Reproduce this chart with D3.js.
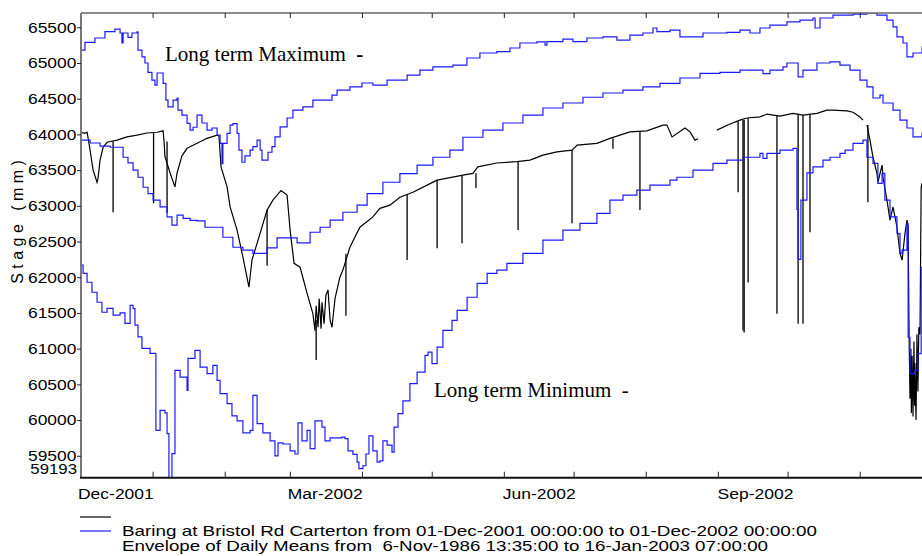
<!DOCTYPE html>
<html>
<head>
<meta charset="utf-8">
<script src="https://cdn.jsdelivr.net/npm/d3@7"></script>
<style>
  body { margin: 0; background: #fff; }
  text { font-family: "Liberation Sans", Arial, sans-serif; }
  .note { font-family: "Liberation Serif", "Times New Roman", serif; white-space: pre; }
</style>
</head>
<body>
<div id="graf"></div>
<script>
// days are counted from 01-Dec-2001 00:00
const maxDays = [0,1.7,6.0,10.3,14.6,16.8,17.6,18.1,20.2,21.9,24.1,24.5,26.2,27.5,28.8,30.5,31.8,32.7,35.3,36.5,37.4,39.6,41.3,41.7,43.4,45.6,46.9,48.2,49.9,52.0,54.2,56.3,58.5,59.8,60.6,61.0,62.8,64.1,65.3,67.1,67.9,69.2,70.5,72.7,73.9,75.7,77.0,77.8,80.4,82.1,83.4,85.6,88.6,91.1,95.4,99.7,105.8,107.9,110.1,115.6,120.8,125.5,131.6,140.2,145.7,151.3,159.9,165.9,171.5,178.8,184.4,188.7,196.0,199.5,200.3,207.2,211.5,217.5,224.4,230.4,236.0,241.6,245.9,247.6,253.2,257.5,267.4,277.7,283.3,287.6,291.9,296.2,303.5,309.1,314.7,315.6,317.7,323.3,331.9,337.9,342.2,346.5,349.1,350.8,353.4,355.1,357.7,361.6,365]
const maxValues = [65180,65290,65350,65440,65475,65420,65280,65420,65360,65420,65435,65180,65085,65000,64870,64760,64690,64860,64715,64480,64385,64480,64510,64340,64270,64155,64060,64100,64270,64160,64060,64090,63990,63875,63590,63875,64015,64130,64150,64015,63780,63610,63700,63780,63830,63920,63780,63640,63750,63830,63965,64105,64230,64340,64385,64480,64480,64550,64620,64665,64720,64690,64760,64830,64900,64945,64970,65070,65140,65160,65210,65280,65295,65250,65300,65335,65300,65350,65365,65320,65390,65420,65490,65440,65460,65365,65420,65430,65460,65420,65490,65530,65575,65600,65630,65490,65630,65670,65685,65700,65670,65600,65505,65365,65280,65085,65140,65225,65250]

const meanDays = [0,3.9,8.2,12.5,15.9,18.1,20.2,22.4,24.5,26.7,28.8,31.0,34.0,37.0,39.1,41.3,43.9,46.9,49.9,53.3,57.6,61.0,65.3,69.6,73.9,77.0,80.0,84.3,88.6,92.9,95.4,98.5,102.8,107.1,112.6,118.7,123.0,129.8,137.1,144.5,151.3,158.6,164.2,172.8,181.4,190.0,198.6,207.2,215.8,224.4,233.0,241.6,248.9,257.5,266.1,274.7,283.3,291.9,293.2,296.2,301.8,303.5,307.8,308.3,310.4,316.4,322.0,326.3,330.6,334.9,337.9,340.5,343.5,344.8,349.1,352.1,355.1,357.7,361.6,365]
const meanValues = [63920,63880,63835,63820,63820,63680,63600,63500,63400,63260,63170,63080,62985,62845,62730,62870,62825,62795,62790,62700,62700,62560,62420,62380,62335,62335,62410,62550,62550,62480,62480,62630,62700,62800,62910,63010,63170,63330,63450,63570,63680,63780,63960,64060,64160,64270,64370,64440,64520,64580,64620,64665,64715,64790,64855,64870,64900,64900,64850,64900,64945,65000,65000,64805,64900,65000,65015,64970,64900,64760,64665,64510,64550,64440,64340,64200,64090,63965,64020,64050]

const minDays = [0,0.9,2.6,4.7,6.9,9.0,11.2,13.8,16.8,18.9,21.1,22.4,23.2,24.5,26.2,29.7,32.2,34.0,36.1,37.0,37.8,39.1,40.4,42.6,45.6,46.0,49.0,51.2,54.2,56.7,58.5,59.8,62.8,64.9,67.1,69.6,72.7,73.9,75.7,78.2,81.3,83.4,84.7,86.8,89.9,92.0,93.3,95.0,97.2,98.5,100.6,103.6,104.9,107.1,112.2,113.5,114.8,116.9,118.7,119.5,121.2,122.5,123.8,125.5,127.3,128.5,129.8,131.6,133.7,134.6,136.3,138.4,141.4,144.5,147.9,149.2,150.9,153.1,155.6,159.5,161.7,166.0,170.3,174.6,178.8,183.1,190.0,198.6,207.2,214.5,221.8,227.4,233.0,239.0,244.6,253.2,256.2,263.1,271.7,277.7,284.6,291.9,293.2,294.9,300.5,306.1,307.8,308.3,309.5,312.1,314.7,319.0,322.0,326.3,328.5,331.9,336.2,337.9,340.5,342.6,344.4,345.6,347.8,350.8,352.1,353.0,355.1,355.6,356.4,358.5,359.8,361.2,365]
const minValues = [62170,62055,61930,61790,61650,61510,61565,61470,61500,61355,61605,61560,61330,61165,61005,60935,59855,60135,60100,59810,59100,59530,60695,60600,60415,60865,60975,60740,60650,60765,60555,60370,60230,60060,59990,59820,59855,60345,59950,59820,59710,59500,59680,59665,59570,59525,59960,59710,59855,59600,59990,59900,59710,59750,59760,59740,59570,59520,59410,59320,59360,59525,59780,59570,59410,59430,59710,59650,59550,59900,60090,60270,60510,60670,60905,60950,60790,61020,61255,61395,61535,61720,61915,62055,62100,62195,62335,62520,62660,62755,62895,63080,63150,63220,63290,63360,63400,63500,63595,63640,63680,63735,63665,63735,63780,63805,62950,62250,63080,63460,63545,63640,63680,63735,63780,63875,63920,63680,63595,63315,63455,63080,62845,62610,62335,62380,62750,61160,60650,60700,60930,62140,62200]

const stageDays = [0,1.7,2.6,3.0,3.9,5.2,6.9,7.3,8.2,9.5,11.2,15.5,19.8,24.1,28.4,32.7,35.3,35.7,36.1,38.3,40.4,41.3,43.4,45.6,49.9,54.2,58.5,59.3,60.2,62.8,64.1,67.1,69.6,72.2,73.5,75.7,80.0,82.5,86.0,88.6,89.9,91.6,94.2,97.2,99.7,100.6,101.1,101.9,102.4,103.2,103.6,104.5,105.3,106.2,107.1,107.9,109.2,111.3,112.6,115.6,119.9,125.5,128.5,132.8,137.1,142.7,148.8,153.1,164.2,168.5,170.6,178.8,187.4,193.0,198.6,204.6,211.1,213.3,221.8,227.4,236.0,243.3,250.2,251.9,254.1,259.7,261.8,264.0,265.3,269,273.4,279.0,283.3,286.3,291.9,294.9,300.5,306.1,310.4,316.4,320.7,323.3,329.3,331.9,334.9,336.2,337,337.9,339.2,340.5,342.2,342.6,344.4,344.8,346.5,347.8,349.1,350.8,352.1,353.0,354.2,355.1,355.6,356.0,356.4,356.8,357.0,357.3,357.7,358.1,358.4,358.5,359.0,359.4,359.8,360.2,360.7,361.2,361.6]
const stageValues = [64030,64015,64030,63960,63780,63500,63330,63380,63640,63820,63890,63920,63965,63990,64020,64030,64050,63900,63690,63460,63265,63460,63700,63805,63875,63945,63990,63980,63545,63265,62985,62660,62285,61860,62240,62475,62940,63080,63215,63150,62660,62195,62140,61775,61490,61250,61600,61300,61700,61280,61650,61350,61750,61820,61400,61300,61700,62000,62100,62420,62700,62845,62965,63010,63120,63190,63290,63360,63430,63455,63545,63600,63620,63640,63710,63755,63780,63850,63875,63945,64035,64050,64130,64130,63965,64090,64035,63920,63940,null,64060,64145,64200,64230,64245,64285,64255,64295,64270,64295,64340,64340,64330,64310,64245,64200,null,64130,63920,63680,63455,63330,63570,63400,63080,62800,62985,62700,62335,62240,62600,62800,62700,61200,60300,61000,60100,60900,60050,61100,60200,60800,60000,61200,60400,61300,61200,63260,63320]

// sharp drops in the record: day, level before the drop, lowest level
const spikeDays = [13.8,31.2,37.0,80.0,101.1,113.9,140.2,153.1,163.8,169.8,187.9,211.1,228.7,240.3,282.5,284.6,285.1,286.8,299.2,308.3,310.4,313.4,338.3]
const spikeTops = [63900,64030,63900,62940,61400,62330,63150,63360,63430,63455,63620,63780,63945,64040,64190,64200,64200,64225,64260,64290,64270,64280,64130]
const spikeLows = [62910,63035,62900,62160,60840,61460,62240,62405,62475,63250,62660,62755,63800,62940,63190,61255,61225,61925,61490,61350,61350,62630,63050]

const yTicks = [59500,60000,60500,61000,61500,62000,62500,63000,63500,64000,64500,65000,65500]
const yBottom = 59193
const yTop = 65700
const xLabelDates = ["2001-12-16","2002-03-16","2002-06-16","2002-09-17"]
const xLabelTexts = ["Dec-2001","Mar-2002","Jun-2002","Sep-2002"]

const legendTexts = [
  "Baring at Bristol Rd Carterton from 01-Dec-2001 00:00:00 to 01-Dec-2002 00:00:00",
  "Envelope of Daily Means from  6-Nov-1986 13:35:00 to 16-Jan-2003 07:00:00"
]

const ancho = 922
const alto = 556
const plot = { left: 81, right: 930, top: 13, bottom: 477.7 }
const blue = "#1a1aff"

const start = new Date(2001, 11, 1)
const toDate = d => new Date(start.getTime() + d * 864e5)
const parseDay = d3.timeParse("%Y-%m-%d")

const svg = d3.select("#graf").append("svg")
  .attr("width", ancho)
  .attr("height", alto)

const x = d3.scaleTime()
  .domain([start, new Date(2002, 11, 1)])
  .range([plot.left, plot.right])
const y = d3.scaleLinear()
  .domain([yBottom, yTop])
  .range([plot.bottom, plot.top])

svg.append("clipPath").attr("id", "clip")
  .append("rect")
  .attr("x", plot.left).attr("y", plot.top)
  .attr("width", plot.right - plot.left).attr("height", plot.bottom - plot.top)

const zip = (ds, vs) => ds.map((d, i) => [d, vs[i]])

const stepLine = d3.line()
  .x(d => x(toDate(d[0])))
  .y(d => y(d[1]))
  .curve(d3.curveStepAfter)

const stageLine = d3.line()
  .defined(d => d[1] != null)
  .x(d => x(toDate(d[0])))
  .y(d => y(d[1]))

const g = svg.append("g").attr("clip-path", "url(#clip)")

// observed record
g.append("path")
  .attr("d", stageLine(zip(stageDays, stageValues)))
  .attr("fill", "none").attr("stroke", "#000").attr("stroke-width", 1.2)

g.selectAll(".spike")
  .data(spikeDays)
  .enter()
  .append("line")
  .attr("class", "spike")
  .attr("x1", d => x(toDate(d))).attr("x2", d => x(toDate(d)))
  .attr("y1", (d, i) => y(spikeTops[i]))
  .attr("y2", (d, i) => y(spikeLows[i]))
  .attr("stroke", "#000").attr("stroke-width", 1.3)

// envelope of daily means
;[[maxDays, maxValues], [meanDays, meanValues], [minDays, minValues]].forEach(s => {
  g.append("path")
    .attr("d", stepLine(zip(s[0], s[1])))
    .attr("fill", "none").attr("stroke", blue).attr("stroke-width", 1.2)
})

// axes frame
svg.append("line")
  .attr("x1", plot.left).attr("x2", plot.right)
  .attr("y1", plot.top).attr("y2", plot.top)
  .attr("stroke", "#666").attr("stroke-width", 1.5)
svg.append("line")
  .attr("x1", plot.left).attr("x2", plot.left)
  .attr("y1", plot.top).attr("y2", plot.bottom)
  .attr("stroke", "#777").attr("stroke-width", 2)
svg.append("line")
  .attr("x1", plot.left - 1).attr("x2", plot.right)
  .attr("y1", plot.bottom).attr("y2", plot.bottom)
  .attr("stroke", "#111").attr("stroke-width", 2)

const months = d3.timeMonth.range(new Date(2002, 0, 1), new Date(2002, 11, 2))
svg.selectAll(".tickTop")
  .data(months).enter().append("line")
  .attr("x1", d => x(d)).attr("x2", d => x(d))
  .attr("y1", plot.top).attr("y2", plot.top + 5)
  .attr("stroke", "#222")
svg.selectAll(".tickBottom")
  .data(months).enter().append("line")
  .attr("x1", d => x(d)).attr("x2", d => x(d))
  .attr("y1", plot.bottom).attr("y2", plot.bottom - 6)
  .attr("stroke", "#222")

// y axis
const yAxis = d3.axisLeft(y).tickValues(yTicks).tickSize(4).tickPadding(0)
  .tickFormat(d3.format("d"))
const yg = svg.append("g")
  .attr("transform", `translate(${plot.left}, 0)`)
  .call(yAxis)
yg.select(".domain").remove()
yg.selectAll("line").attr("stroke", "#222")
yg.selectAll("text")
  .attr("font-size", 15)
  .attr("fill", "#000")
  .attr("font-family", "Liberation Sans, Arial, sans-serif")
  .attr("transform", "scale(1.16,1)")

svg.append("text")
  .attr("x", 0).attr("y", 0)
  .attr("transform", `translate(${plot.left - 4}, ${y(yBottom) - 8.5}) scale(1.2,1)`)
  .attr("text-anchor", "end").attr("dy", "0.32em")
  .attr("font-size", 14)
  .text(yBottom)

// x labels
svg.selectAll(".xlab")
  .data(xLabelDates).enter().append("text")
  .attr("transform", d => `translate(${x(parseDay(d))}, 499) scale(1.13,1)`)
  .attr("text-anchor", "middle")
  .attr("font-size", 15.5)
  .text((d, i) => xLabelTexts[i])

// y title
svg.append("text")
  .attr("transform", "translate(23, 222) rotate(-90)")
  .attr("text-anchor", "middle")
  .attr("font-size", 16)
  .style("white-space", "pre")
  .text("S t a g e   ( m m )")

// notes inside the plot
const maxNote = svg.append("text").attr("class", "note")
  .attr("x", 165).attr("y", 61)
  .attr("font-size", 21)
maxNote.append("tspan").text("Long term Maximum  ")
maxNote.append("tspan").attr("font-weight", "bold").text("-")

svg.append("text").attr("class", "note")
  .attr("x", 434).attr("y", 397)
  .attr("font-size", 21)
  .text("Long term Minimum  -")

// legend
svg.append("line")
  .attr("x1", 80).attr("x2", 111).attr("y1", 517).attr("y2", 517)
  .attr("stroke", "#000").attr("stroke-width", 1.2)
svg.append("line")
  .attr("x1", 80).attr("x2", 111).attr("y1", 531).attr("y2", 531)
  .attr("stroke", blue).attr("stroke-width", 1.2)

svg.selectAll(".legtext")
  .data(legendTexts).enter().append("text")
  .attr("x", 122)
  .attr("y", (d, i) => 536 + i * 15)
  .attr("font-size", 14.5)
  .attr("textLength", (d, i) => i === 0 ? 695 : 646)
  .attr("lengthAdjust", "spacingAndGlyphs")
  .style("white-space", "pre")
  .text(d => d)
</script>
</body>
</html>
